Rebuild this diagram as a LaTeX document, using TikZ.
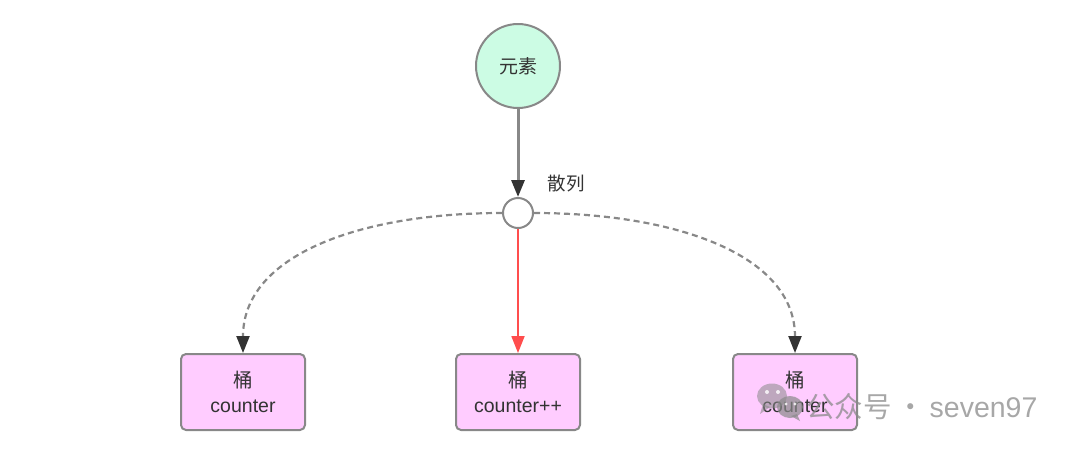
\documentclass[tikz,border=0pt]{standalone}
\usepackage{fontspec}
\setmainfont{Liberation Sans}
\newfontfamily\cjk{Noto Sans CJK SC}
\usetikzlibrary{arrows.meta}
\definecolor{mint}{HTML}{CCFCE4}
\definecolor{pinkbox}{HTML}{FFCCFF}
\definecolor{edgegray}{HTML}{888888}
\definecolor{tipdark}{HTML}{333333}
\definecolor{txt}{HTML}{333333}
\definecolor{redline}{HTML}{FF4D4D}
\definecolor{wm}{HTML}{8A8A8A}
\tikzset{
  elemnode/.style={circle,draw=edgegray,line width=2pt,fill=mint,minimum size=84pt,inner sep=0pt,font=\fontsize{19pt}{22pt}\selectfont\cjk,text=txt},
  hashnode/.style={circle,draw=edgegray,line width=2pt,fill=white,minimum size=30pt,inner sep=0pt},
  bucket/.style={rectangle,rounded corners=5pt,draw=edgegray,line width=2pt,fill=pinkbox,minimum width=124pt,minimum height=76pt,inner sep=0pt,align=center,font=\fontsize{19.5pt}{25pt}\selectfont,text=txt},
  solidarrow/.style={draw=edgegray,line width=3pt,-{Triangle[width=13pt,length=17pt,color=tipdark]}},
  dasharrow/.style={draw=edgegray,line width=2.2pt,dash pattern=on 6pt off 4pt,-{Triangle[width=13pt,length=17pt,color=tipdark]}},
  redarrow/.style={draw=redline,line width=1.8pt,-{Triangle[width=13pt,length=17pt]}},
  lbl/.style={font=\fontsize{18.5pt}{20pt}\selectfont\cjk,text=txt},
}
\begin{document}
\begin{tikzpicture}[x=1pt,y=-1pt]
\useasboundingbox (0,0) rectangle (1080,451);
\node[elemnode] (elem) at (518,66) {元素};
\node[hashnode] (hash) at (518,213) {};
\node[lbl] (hashlbl) at (566,184) {散列};
\node[bucket] (b1) at (243,392) {{\cjk 桶}\\counter};
\node[bucket] (b2) at (518,392) {{\cjk 桶}\\counter++};
\node[bucket] (b3) at (795,392) {{\cjk 桶}\\counter};
\draw[solidarrow] (elem) -- (hash);
\draw[redarrow] (hash) -- (b2);
\draw[dasharrow] (hash.west) .. controls (360,213) and (243,255) .. (b1.north);
\draw[dasharrow] (hash.east) .. controls (676,213) and (795,255) .. (b3.north);
% watermark
\begin{scope}[fill=wm,fill opacity=0.55]
  \fill (772,396) ellipse [x radius=15pt,y radius=12.5pt];
  \fill (763,404) -- (760,414) -- (770,407) -- cycle;
\end{scope}
\begin{scope}[fill=wm,fill opacity=0.7]
  \fill (790,407) ellipse [x radius=13pt,y radius=11pt];
  \fill (797,414) -- (800,421) -- (791,416) -- cycle;
\end{scope}
\fill[white,fill opacity=0.8] (767,392) circle (2pt) (778,392) circle (2pt) (786,404) circle (1.7pt) (795,404) circle (1.7pt);
\node[text=wm,text opacity=0.75,anchor=west,inner sep=0pt,font=\fontsize{28.5pt}{30pt}\selectfont] (wmtext) at (806,407) {{\cjk 公众号}\,{\cjk ·}\,seven97};
\end{tikzpicture}
\end{document}
